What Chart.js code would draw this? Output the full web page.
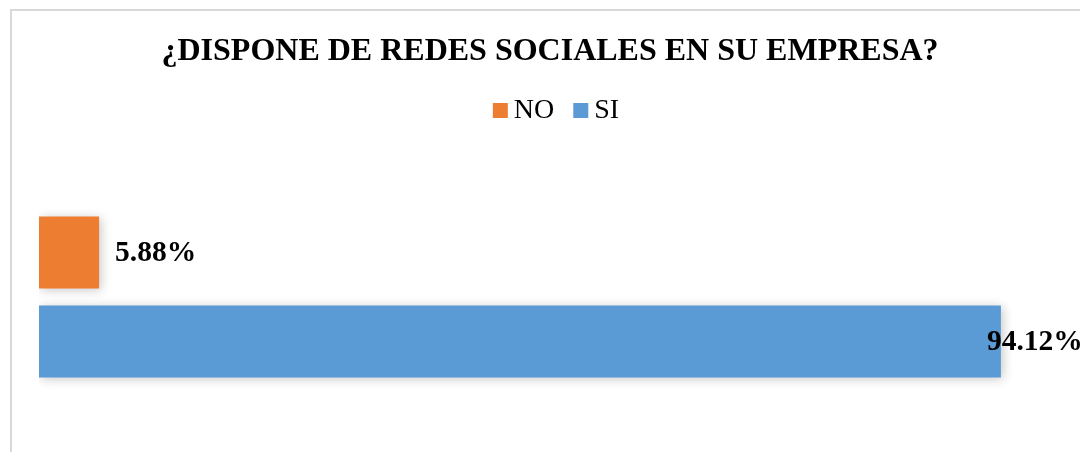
<!DOCTYPE html>
<html>
<head>
<meta charset="utf-8">
<script src="https://cdn.jsdelivr.net/npm/chart.js@4.4.1/dist/chart.umd.min.js"></script>
<style>
html,body{margin:0;padding:0;background:#fff;}
#wrap{position:relative;width:1080px;height:452px;}
</style>
</head>
<body>
<div id="wrap"><canvas id="c" width="1080" height="452"></canvas></div>
<script>
const categories = [""];
const seriesNames = ["NO", "SI"];
const noValues = [5.88];
const siValues = [94.12];
const seriesColors = ["#ED7D31", "#5B9BD5"];
const titleText = "¿DISPONE DE REDES SOCIALES EN SU EMPRESA?";
const FONT = "'Liberation Serif','Times New Roman',serif";

const frame = {
  id: 'frame',
  beforeDraw(chart) {
    const ctx = chart.ctx;
    ctx.save();
    ctx.fillStyle = '#fff';
    ctx.fillRect(0, 0, chart.width, chart.height);
    ctx.strokeStyle = '#d9d9d9';
    ctx.lineWidth = 2;
    ctx.beginPath();
    ctx.moveTo(11, chart.height);
    ctx.lineTo(11, 10);
    ctx.lineTo(chart.width, 10);
    ctx.stroke();
    ctx.restore();
  }
};

const legendDraw = {
  id: 'legendDraw',
  afterDraw(chart) {
    const ctx = chart.ctx;
    ctx.save();
    ctx.font = "28px " + FONT;
    ctx.textBaseline = 'middle';
    ctx.textAlign = 'left';
    const box = 15, gapText = 6, gapItem = 19;
    const items = chart.data.datasets.map(ds => ({
      text: ds.label, color: ds.backgroundColor, w: ctx.measureText(ds.label).width
    }));
    let total = 0;
    items.forEach((it, i) => { total += box + gapText + it.w + (i < items.length - 1 ? gapItem : 0); });
    let x = (chart.chartArea.left + chart.chartArea.right) / 2 + 6 - total / 2;
    const cy = 110;
    items.forEach(it => {
      ctx.fillStyle = it.color;
      ctx.fillRect(x, cy - 7, box, box);
      x += box + gapText;
      ctx.fillStyle = '#000';
      ctx.fillText(it.text, x, cy + 1);
      x += it.w + gapItem;
    });
    ctx.restore();
  }
};

const shadow = {
  id: 'shadow',
  beforeDatasetsDraw(chart) {
    const ctx = chart.ctx;
    ctx.save();
    ctx.shadowColor = 'rgba(0,0,0,0.22)';
    ctx.shadowBlur = 10;
    ctx.shadowOffsetX = 2;
    ctx.shadowOffsetY = 2;
  },
  afterDatasetsDraw(chart) {
    chart.ctx.restore();
  }
};

const labels = {
  id: 'valueLabels',
  afterDatasetsDraw(chart) {
    const ctx = chart.ctx;
    ctx.save();
    ctx.font = "bold 29.5px " + FONT;
    ctx.fillStyle = '#000';
    ctx.textBaseline = 'middle';
    ctx.textAlign = 'left';
    chart.data.datasets.forEach((ds, i) => {
      const meta = chart.getDatasetMeta(i);
      meta.data.forEach((bar, j) => {
        const txt = ds.data[j].toFixed(2) + '%';
        const w = ctx.measureText(txt).width;
        let x = bar.x + 16;
        if (x + w > chart.width + 4) x = bar.x - 14;
        ctx.fillText(txt, x, bar.y + 1);
      });
    });
    ctx.restore();
  }
};

new Chart(document.getElementById('c'), {
  type: 'bar',
  data: {
    labels: categories,
    datasets: [
      { label: seriesNames[0], data: noValues, backgroundColor: seriesColors[0], borderWidth: 0 },
      { label: seriesNames[1], data: siValues, backgroundColor: seriesColors[1], borderWidth: 0 }
    ]
  },
  options: {
    indexAxis: 'y',
    responsive: false,
    animation: false,
    devicePixelRatio: 1,
    layout: { padding: { left: 39, right: 19, top: 0, bottom: 8 } },
    categoryPercentage: 0.6054,
    barPercentage: 0.809,
    scales: {
      x: { display: false, min: 0, max: 100 },
      y: { display: false }
    },
    plugins: {
      title: {
        display: true,
        text: titleText,
        color: '#000',
        font: { family: FONT, size: 32, weight: 'bold' },
        padding: { top: 33, bottom: 78.5 }
      },
      legend: { display: false },
      tooltip: { enabled: false }
    }
  },
  plugins: [frame, shadow, labels, legendDraw]
});
</script>
</body>
</html>
